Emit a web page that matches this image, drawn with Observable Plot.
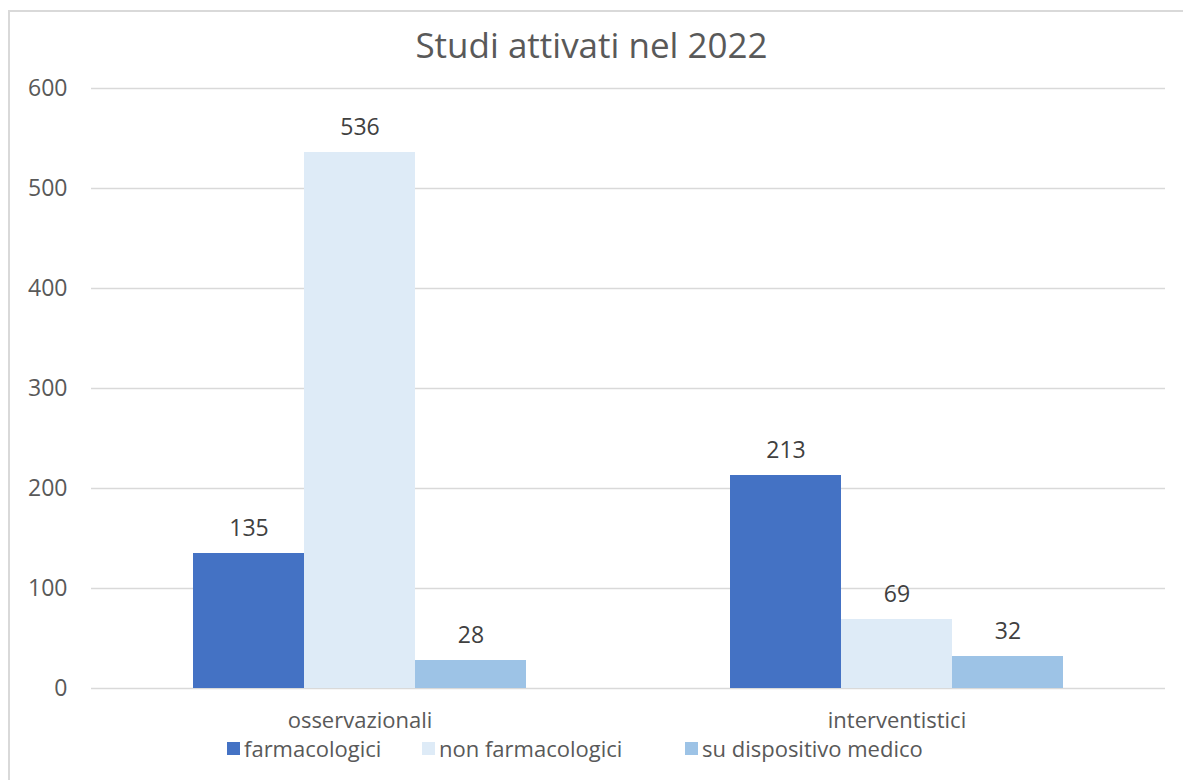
<!DOCTYPE html>
<html>
<head>
<meta charset="utf-8">
<script src="https://cdn.jsdelivr.net/npm/d3@7"></script>
<script src="https://cdn.jsdelivr.net/npm/@observablehq/plot@0.6"></script>
<style>
  html, body { margin: 0; padding: 0; background: #fff; overflow: hidden; }
  #wrap { position: relative; width: 1183px; height: 780px; overflow: hidden; font-family: "Open Sans", Lato, sans-serif; font-weight: 400; color: #595959; }
  #bl { position: absolute; left: 8px; top: 10px; width: 2px; height: 800px; background: #d9d9d9; }
  #bt { position: absolute; left: 8px; top: 10px; width: 1300px; height: 2px; background: #d9d9d9; }
  #title { position: absolute; left: 0; width: 1183px; top: 21px; text-align: center; font-size: 35px; font-weight: 400; color: #595959; line-height: normal; }
  #chart { position: absolute; left: 0; top: 0; }
  #legend { position: absolute; left: 0; top: 0; width: 1183px; height: 780px; font-size: 22px; color: #595959; }
  .item { position: absolute; top: 733px; display: flex; align-items: center; white-space: nowrap; }
  .sw { width: 13px; height: 13px; margin-right: 4px; display: inline-block; }
</style>
</head>
<body>
<div id="wrap">
  <div id="bl"></div>
  <div id="bt"></div>
  <div id="chart"></div>
  <div id="title">Studi attivati nel 2022</div>
  <div id="legend"></div>
</div>
<script>
const categories = ["osservazionali", "interventistici"];
const seriesNames = ["farmacologici", "non farmacologici", "su dispositivo medico"];
const farmacologici = [135, 213];
const nonFarmacologici = [536, 69];
const suDispositivo = [28, 32];
const colors = ["#4472C4", "#DEEBF7", "#9DC3E6"];
const yTicks = [0, 100, 200, 300, 400, 500, 600];

const seriesValues = [farmacologici, nonFarmacologici, suDispositivo];
const data = [];
categories.forEach((c, i) => {
  seriesNames.forEach((s, j) => {
    data.push({category: c, series: s, value: seriesValues[j][i]});
  });
});

const chart = Plot.plot({
  width: 1183,
  height: 780,
  marginTop: 88,
  marginBottom: 92,
  marginLeft: 90,
  marginRight: 18,
  style: {fontFamily: "'Open Sans', Lato, sans-serif", fontSize: "22px", color: "#595959", background: "transparent"},
  fx: {domain: categories, paddingInner: 0, paddingOuter: 0, label: null},
  x: {domain: seriesNames, paddingInner: 0, paddingOuter: 0.9, axis: null},
  y: {domain: [0, 600], label: null},
  color: {domain: seriesNames, range: colors},
  marks: [
    Plot.gridY(yTicks, {stroke: "#d9d9d9", strokeOpacity: 1, strokeWidth: 1.5, facetAnchor: null}),
    Plot.axisY({ticks: yTicks, tickSize: 0, tickPadding: 24, fontSize: 23, fill: "#595959", label: null}),
    Plot.barY(data, {fx: "category", x: "series", y: "value", fill: "series"}),
    Plot.text(data, {fx: "category", x: "series", y: "value", text: d => String(d.value), dy: -25, fill: "#404040", fontSize: 23}),
    Plot.axisFx({anchor: "bottom", tickSize: 0, tickPadding: 24, fontSize: 22, fill: "#595959", label: null})
  ]
});
document.getElementById("chart").appendChild(chart);

const legendLefts = [227, 422, 685];
const legend = document.getElementById("legend");
seriesNames.forEach((s, i) => {
  const item = document.createElement("div");
  item.className = "item";
  item.style.left = legendLefts[i] + "px";
  const sw = document.createElement("span");
  sw.className = "sw";
  sw.style.background = colors[i];
  const t = document.createElement("span");
  t.textContent = s;
  item.appendChild(sw);
  item.appendChild(t);
  legend.appendChild(item);
});
</script>
</body>
</html>
